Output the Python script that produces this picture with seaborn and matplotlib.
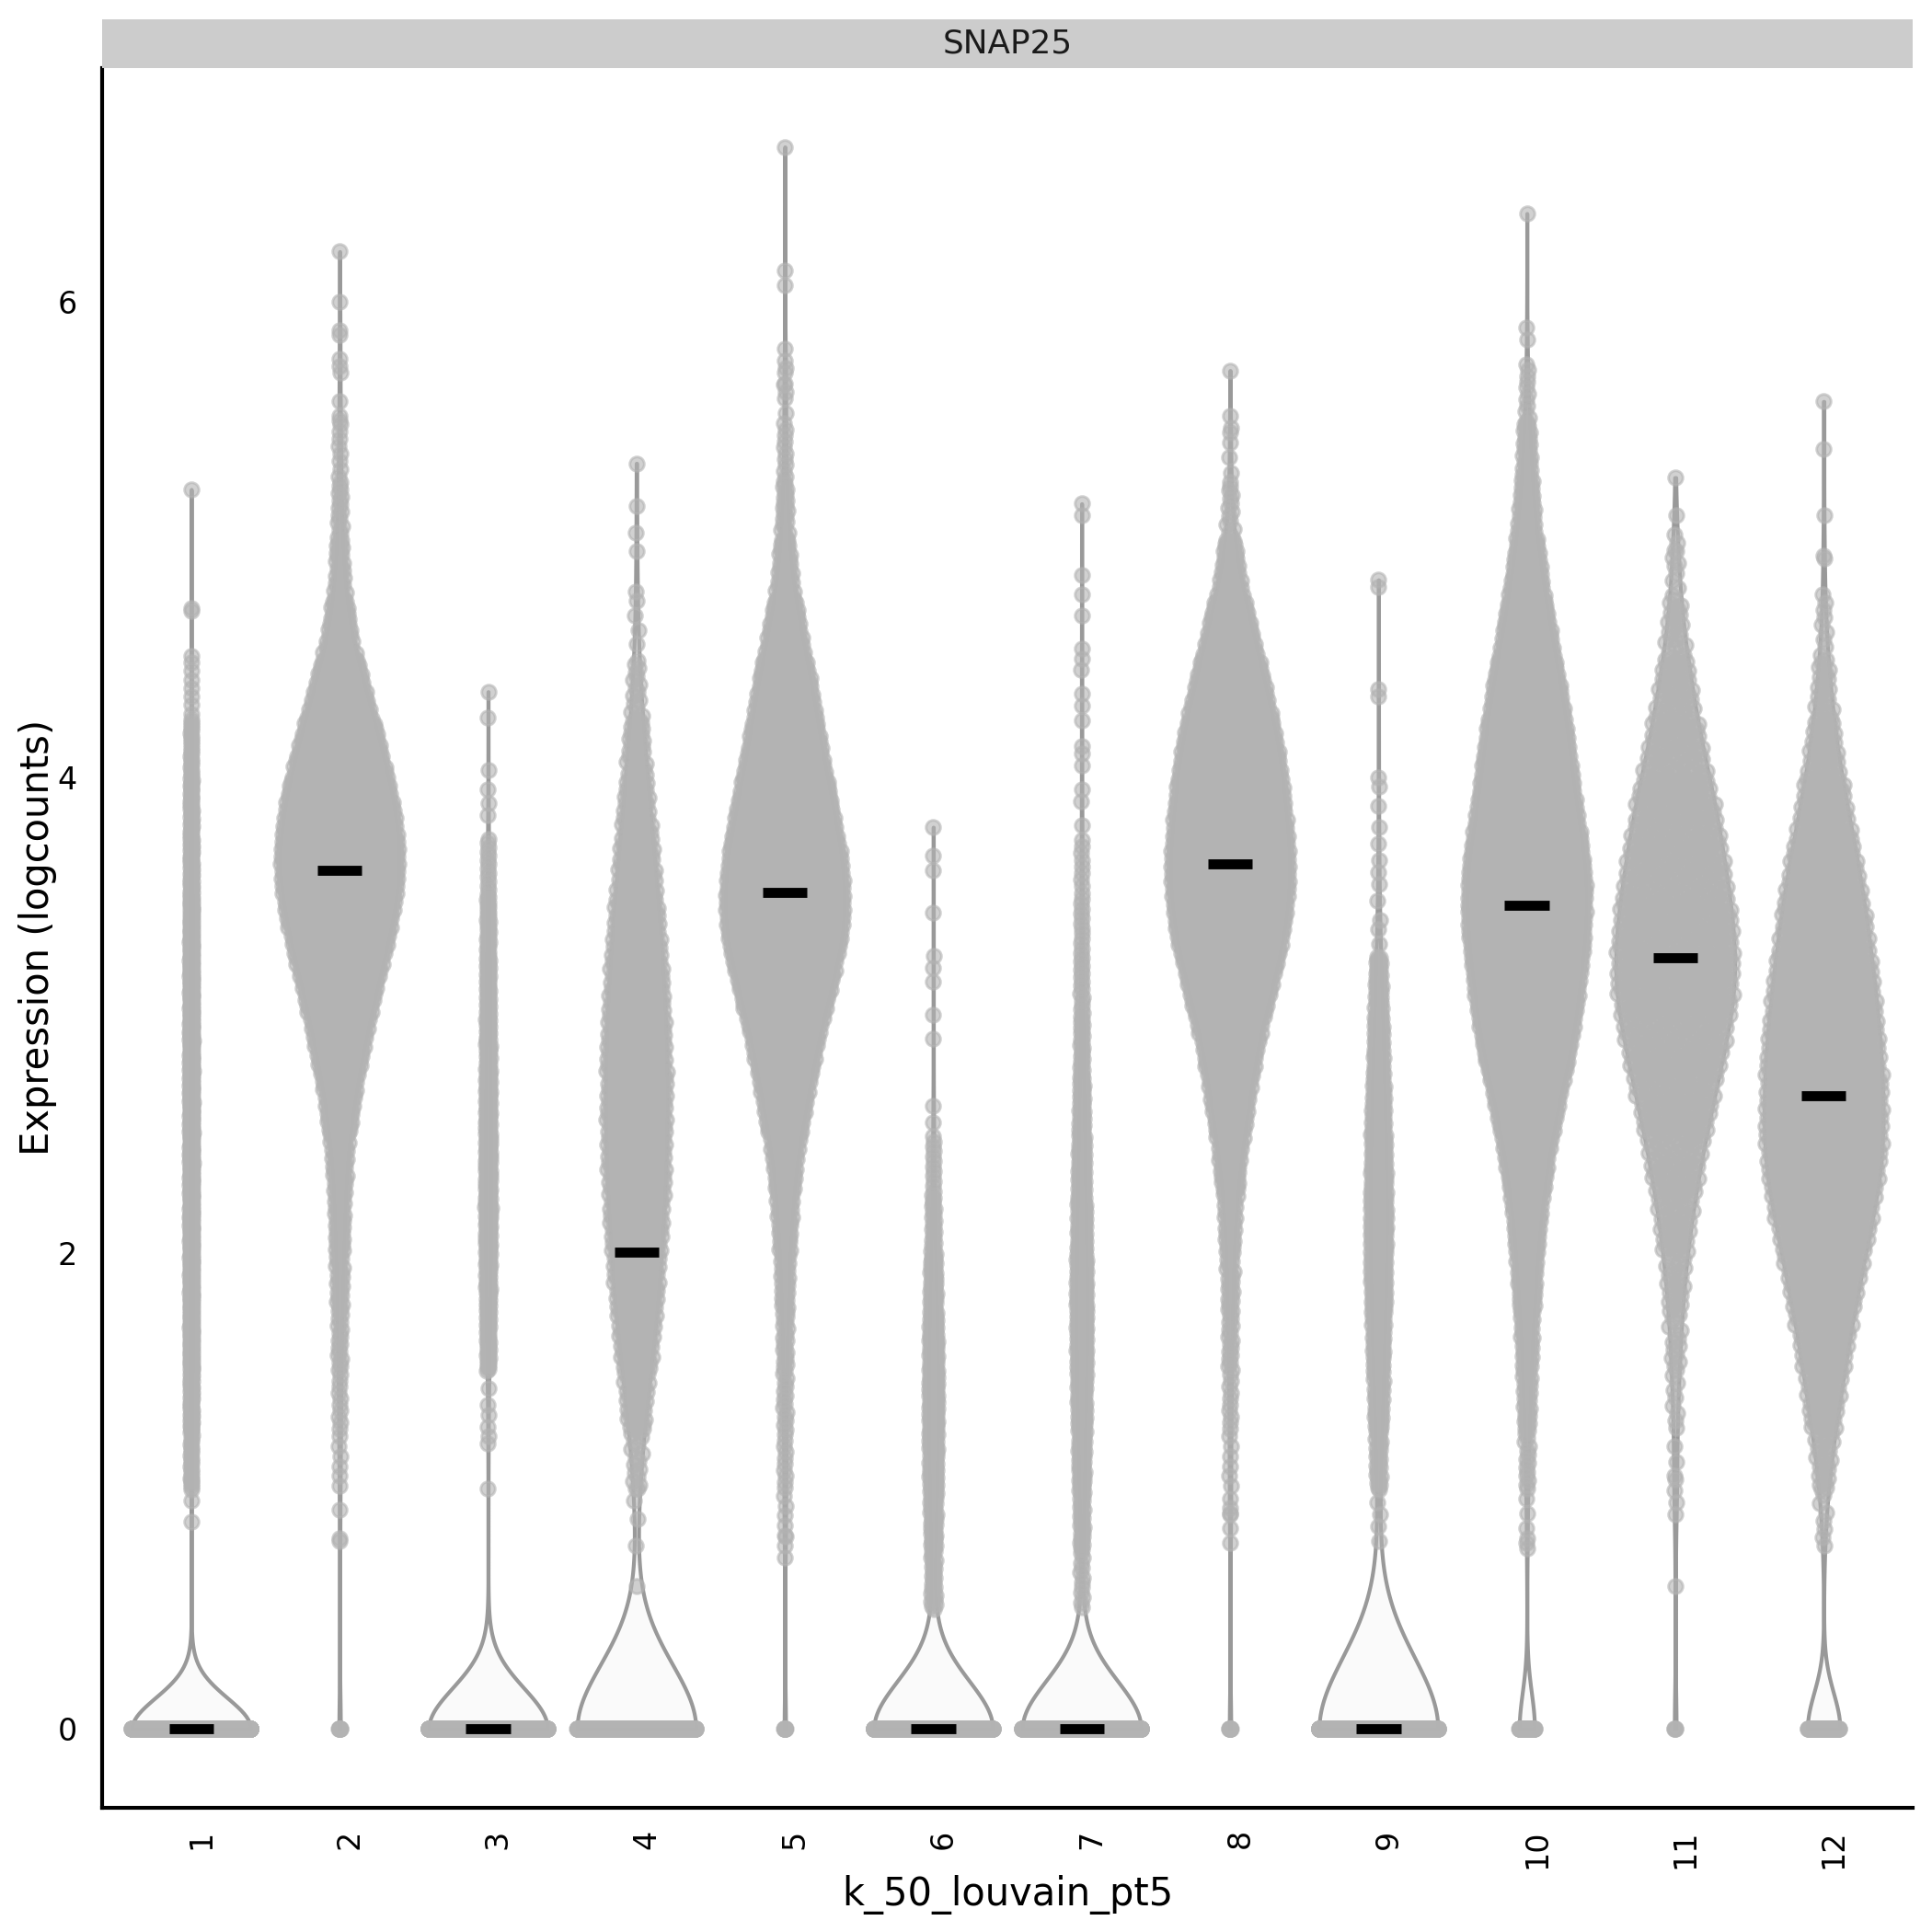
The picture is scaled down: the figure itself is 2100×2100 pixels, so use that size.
import numpy as np
import pandas as pd
import matplotlib
matplotlib.use("Agg")
import matplotlib.pyplot as plt
import matplotlib.transforms as mtransforms
import seaborn as sns

# ---------------- data ----------------
gene = "SNAP25"
clusters = ["1", "2", "3", "4", "5", "6", "7", "8", "9", "10", "11", "12"]
x_title = "k_50_louvain_pt5"
y_title = "Expression (logcounts)"
y_ticks = [0, 2, 4, 6]

# number of cells with zero expression per cluster
zero_counts = [3000, 8, 1800, 800, 8, 1800, 1800, 8, 2100, 110, 4, 90]

# histogram of the non-zero cells: 26 bins of width 0.25 starting at 0.5
bin_start = 0.5
bin_width = 0.25
counts_1 = [0, 0, 21, 41, 52, 55, 59, 62, 62, 62, 59, 52, 41, 31, 21, 7, 0, 0, 0, 0, 0, 0, 0, 0, 0, 0]
counts_2 = [0, 0, 6, 10, 16, 26, 40, 58, 118, 208, 318, 442, 520, 468, 352, 214, 84, 32, 16, 8, 0, 0, 0, 0, 0, 0]
counts_3 = [0, 0, 0, 0, 31, 41, 52, 52, 45, 38, 31, 24, 14, 0, 0, 0, 0, 0, 0, 0, 0, 0, 0, 0, 0, 0]
counts_4 = [0, 0, 15, 52, 92, 117, 137, 151, 158, 155, 140, 120, 92, 67, 41, 15, 0, 0, 0, 0, 0, 0, 0, 0, 0, 0]
counts_5 = [0, 6, 10, 14, 20, 32, 58, 98, 190, 280, 410, 530, 514, 420, 320, 240, 136, 52, 22, 10, 4, 0, 0, 0, 0, 0]
counts_6 = [27, 45, 66, 75, 66, 48, 21, 12, 0, 0, 0, 0, 0, 0, 0, 0, 0, 0, 0, 0, 0, 0, 0, 0, 0, 0]
counts_7 = [12, 27, 48, 66, 84, 84, 66, 54, 36, 21, 15, 12, 9, 0, 0, 0, 0, 0, 0, 0, 0, 0, 0, 0, 0, 0]
counts_8 = [0, 4, 6, 10, 16, 24, 42, 84, 156, 230, 356, 470, 508, 464, 410, 300, 184, 66, 14, 4, 0, 0, 0, 0, 0, 0]
counts_9 = [0, 0, 27, 51, 72, 96, 111, 99, 78, 60, 42, 0, 0, 0, 0, 0, 0, 0, 0, 0, 0, 0, 0, 0, 0, 0]
counts_10 = [0, 4, 14, 32, 50, 88, 124, 198, 302, 440, 510, 578, 578, 472, 412, 332, 224, 136, 66, 38, 10, 0, 0, 0, 0, 0]
counts_11 = [0, 0, 2, 8, 15, 26, 47, 75, 112, 151, 184, 176, 150, 122, 81, 50, 24, 8, 0, 0, 0, 0, 0, 0, 0, 0]
counts_12 = [0, 7, 26, 59, 92, 132, 178, 218, 222, 211, 189, 162, 130, 86, 49, 24, 8, 0, 0, 0, 0, 0, 0, 0, 0, 0]

# individually visible cells (sparse tails)
extra_1 = [0.87, 0.96, 1.05, 4.51, 4.70, 4.71, 5.21]
extra_2 = [0.79, 0.80, 0.92, 5.50, 5.52, 5.58, 5.70, 5.73, 5.76, 5.86, 5.88, 6.00, 6.21]
extra_3 = [1.01, 1.20, 1.23, 1.27, 1.32, 1.36, 1.43, 3.84, 3.89, 3.95, 4.03, 4.25, 4.36]
extra_4 = [0.60, 0.77, 0.88, 0.96, 1.01, 4.56, 4.62, 4.68, 4.74, 4.78, 4.95, 5.03, 5.14, 5.32]
extra_5 = [0.72, 0.81, 5.62, 5.65, 5.70, 5.75, 5.80, 6.07, 6.13, 6.65]
extra_6 = [2.55, 2.62, 2.90, 3.00, 3.14, 3.20, 3.25, 3.43, 3.61, 3.67, 3.79]
extra_7 = [3.80, 3.90, 3.95, 4.05, 4.10, 4.13, 4.24, 4.30, 4.35, 4.45, 4.50, 4.54, 4.68, 4.77, 4.85, 5.10, 5.15]
extra_8 = [0.90, 0.93, 5.45, 5.52, 5.71]
extra_9 = [0.79, 0.85, 0.90, 0.95, 3.30, 3.36, 3.40, 3.48, 3.55, 3.60, 3.65, 3.72, 3.79, 3.88,
           3.96, 4.00, 4.34, 4.37, 4.80, 4.83]
extra_10 = [0.76, 0.80, 5.84, 5.89, 6.37]
extra_11 = [0.60, 0.90, 0.95, 1.00, 1.05, 1.12, 4.90, 4.95, 5.02, 5.10, 5.26]
extra_12 = [4.77, 4.92, 4.93, 5.10, 5.38, 5.58]

bin_counts = [counts_1, counts_2, counts_3, counts_4, counts_5, counts_6,
              counts_7, counts_8, counts_9, counts_10, counts_11, counts_12]
extras = [extra_1, extra_2, extra_3, extra_4, extra_5, extra_6,
          extra_7, extra_8, extra_9, extra_10, extra_11, extra_12]

# ---------------- style ----------------
kde_bw = [0.13, 0.13, 0.17, 0.27, 0.13, 0.20, 0.20, 0.13, 0.30, 0.15, 0.15, 0.15]
violin_width = 0.8
point_width = 0.4
crossbar_half = 0.15
point_color = "#B3B3B3"
violin_fill = "#FAFAFA"
violin_edge = "#999999"

sns.set_style("white")
plt.rcParams["font.family"] = ["DejaVu Sans"]


def expand(zeros, counts, extra):
    vals = [np.zeros(zeros)]
    for i, c in enumerate(counts):
        if c > 0:
            lo = bin_start + i * bin_width
            vals.append(lo + (np.arange(c) + 0.5) / c * bin_width)
    vals.append(np.asarray(extra, dtype=float))
    return np.concatenate(vals)


def van_der_corput(n):
    out = np.zeros(n)
    for i in range(n):
        k = i + 1
        f = 0.5
        r = 0.0
        while k > 0:
            r += f * (k & 1)
            k >>= 1
            f *= 0.5
        out[i] = r
    return out


rows = []
for ci, name in enumerate(clusters):
    v = expand(zero_counts[ci], bin_counts[ci], extras[ci])
    rows.append(pd.DataFrame({"cluster": name, "pos": float(ci + 1), "expr": v}))
df = pd.concat(rows, ignore_index=True)

fig = plt.figure(figsize=(7, 7), dpi=300)
left, bottom, width, height = 0.0529, 0.0643, 0.9371, 0.9006
ax = fig.add_axes([left, bottom, width, height])

medians = []
point_frames = []
for ci, name in enumerate(clusters):
    sub = df[df["cluster"] == name]
    vals = sub["expr"].to_numpy()
    bw = kde_bw[ci]
    sns.violinplot(x=sub["pos"], y=sub["expr"], native_scale=True, orient="x",
                   width=violin_width, density_norm="width", cut=0, inner=None,
                   bw_method=bw / np.std(vals, ddof=1), gridsize=400,
                   color=violin_fill, linecolor=violin_edge, linewidth=1.0,
                   saturation=1, ax=ax, zorder=1)
    # quasirandom horizontal offsets following the same density
    grid = np.linspace(vals.min(), vals.max(), 800)
    dens = np.exp(-((grid[:, None] - vals[None, :]) ** 2) / (2 * bw ** 2)).sum(axis=1)
    d_at = np.interp(vals, grid, dens) / dens.max()
    order = np.argsort(vals, kind="stable")
    ranks = np.empty(len(vals), dtype=int)
    ranks[order] = np.arange(len(vals))
    q = van_der_corput(len(vals))[ranks]
    xoff = (2 * q - 1) * point_width * d_at
    point_frames.append(pd.DataFrame({"x": sub["pos"].to_numpy() + xoff, "expr": vals}))
    medians.append(np.median(vals))

pts = pd.concat(point_frames, ignore_index=True)
sns.scatterplot(data=pts, x="x", y="expr", color=point_color, alpha=0.6, s=14,
                edgecolor=point_color, linewidth=0.7, legend=False, ax=ax, zorder=3)

positions = np.arange(1, len(clusters) + 1)
ax.hlines(medians, positions - crossbar_half, positions + crossbar_half,
          colors="black", linewidth=2.6, zorder=4)

ymax = df["expr"].max()
ymin = 0.0
span = ymax - ymin
ax.set_xlim(0.4, len(clusters) + 0.6)
ax.set_ylim(ymin - 0.05 * span, ymax + 0.05 * span)
ax.set_xticks(positions)
ax.set_xticklabels(clusters, rotation=90)
ax.set_yticks(y_ticks)
ax.set_yticklabels([str(t) for t in y_ticks])
ax.set_xlabel("")
ax.set_ylabel("")
for s in ["top", "right"]:
    ax.spines[s].set_visible(False)
for s in ["left", "bottom"]:
    ax.spines[s].set_color("black")
    ax.spines[s].set_linewidth(1.0)
ax.tick_params(axis="both", direction="out", length=2.6, width=1.0, color="black",
               labelsize=8, labelcolor="black")
ax.tick_params(axis="x", pad=3.0)
ax.tick_params(axis="y", pad=4.0)
shift = mtransforms.ScaledTranslation(2.6 / 72, 0, fig.dpi_scale_trans)
for lab in ax.get_xticklabels():
    lab.set_transform(lab.get_transform() + shift)
ax.set_facecolor("white")

fig.text(0.0195, bottom + height / 2, y_title, rotation=90, ha="center", va="center",
         fontsize=10, color="black")
fig.text(left + width / 2, 0.0195, x_title, ha="center", va="center",
         fontsize=10, color="black")

strip = fig.add_axes([left, 0.9648, width, 0.0253])
strip.set_facecolor("#CCCCCC")
strip.set_xticks([])
strip.set_yticks([])
for s in strip.spines.values():
    s.set_visible(False)
strip.text(0.5, 0.5, gene, ha="center", va="center", fontsize=8.6, color="#1A1A1A",
           transform=strip.transAxes)

fig.savefig("out.png", dpi=300, facecolor="white")
